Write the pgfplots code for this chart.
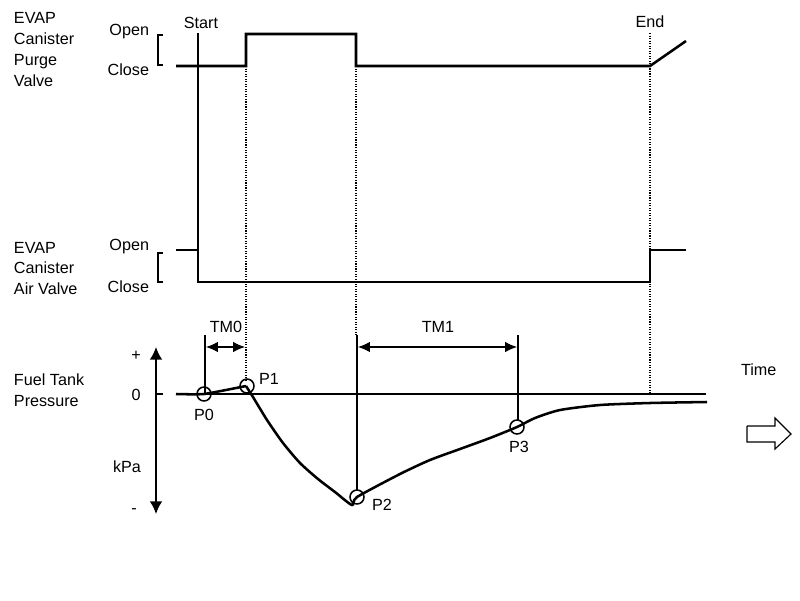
\documentclass[border=0pt]{standalone}
\usepackage{pgfplots}
\pgfplotsset{compat=1.18}
\usetikzlibrary{arrows.meta}
\usepackage{fontspec}
\setmainfont{Liberation Sans}
\tikzset{lab/.style={font=\fontsize{11.5}{13}\selectfont, inner sep=0pt, outer sep=0pt}}
\begin{document}
\begin{tikzpicture}
\begin{axis}[
  width=20cm, height=15cm, scale only axis,
  xmin=0, xmax=800, ymin=0, ymax=600, y dir=reverse,
  hide axis, clip=false,
]
% invisible frame
\addplot[draw=none] coordinates {(0,0) (800,600)};
% ---- Purge valve
\addplot[line width=1.8pt, line join=miter] coordinates {(176,66) (246,66) (246,34) (356,34) (356,66) (650,66) (686,41)};
\addplot[line width=0.8pt] coordinates {(163,35) (158,35) (158,65) (163,65)};
% ---- Air valve
\addplot[line width=1.8pt, line join=miter] coordinates {(176,250) (198,250) (198,282) (650,282) (650,250) (686,250)};
\addplot[line width=0.8pt] coordinates {(163,253) (158,253) (158,282) (163,282)};
% ---- vertical guide lines
\addplot[line width=0.8pt] coordinates {(198,33) (198,282)};
\addplot[line width=0.8pt] coordinates {(205,335) (205,393)};
\addplot[line width=0.8pt, densely dotted] coordinates {(246,66) (246,380)};
\addplot[line width=0.8pt, densely dotted] coordinates {(356,66) (356,335)};
\addplot[line width=0.8pt] coordinates {(357,335) (357,490)};
\addplot[line width=0.8pt] coordinates {(518,335) (518,421)};
\addplot[line width=0.8pt, densely dotted] coordinates {(650,33) (650,393)};
% ---- pressure axis
\addplot[line width=1.1pt, {Latex[length=9pt,width=9pt]}-{Latex[length=9pt,width=9pt]}] coordinates {(156,347) (156,514)};
\addplot[line width=0.8pt] coordinates {(156,394) (163,394)};
\addplot[line width=0.8pt] coordinates {(176,394) (706,394)};
% ---- pressure curve
\addplot[line width=1.8pt, smooth, tension=0.3] coordinates {(176,394) (204,394) (246,386)};
\addplot[line width=1.8pt, smooth, tension=0.4] coordinates {(246,386) (253,397) (267,420) (283,443) (300,463) (318,479) (335,492) (352,505) (357,497) (400,474) (430,460) (460,449) (490,438) (517,427) (535,418) (560,410) (600,405) (650,403) (707,402)};
% ---- circles
\addplot[only marks, mark=o, mark size=7pt*0.711, mark options={line width=1.1pt}] coordinates {(204,394) (247,386) (357,497) (517,427)};
% ---- TM arrows
\addplot[line width=0.8pt, {Latex[length=8.5pt,width=7.5pt]}-{Latex[length=8.5pt,width=7.5pt]}] coordinates {(206,347) (245,347)};
\addplot[line width=0.8pt, {Latex[length=8.5pt,width=7.5pt]}-{Latex[length=8.5pt,width=7.5pt]}] coordinates {(358,347) (517,347)};
% ---- block arrow
\addplot[line width=0.8pt, fill=white] coordinates {(747,426) (775,426) (775,418) (791,434) (775,449) (775,442) (747,442) (747,426)};
% ---- labels
\node[lab, anchor=base west] at (axis cs:14,23) {EVAP};
\node[lab, anchor=base west] at (axis cs:14,44.5) {Canister};
\node[lab, anchor=base west] at (axis cs:14,65.5) {Purge};
\node[lab, anchor=base west] at (axis cs:14,86.5) {Valve};
\node[lab, anchor=base east] at (axis cs:149,35) {Open};
\node[lab, anchor=base east] at (axis cs:149,75) {Close};
\node[lab, anchor=base] at (axis cs:201,28) {Start};
\node[lab, anchor=base] at (axis cs:650,27) {End};
\node[lab, anchor=base west] at (axis cs:14,253) {EVAP};
\node[lab, anchor=base west] at (axis cs:14,273.5) {Canister};
\node[lab, anchor=base west] at (axis cs:14,294) {Air Valve};
\node[lab, anchor=base east] at (axis cs:149,250) {Open};
\node[lab, anchor=base east] at (axis cs:149,292) {Close};
\node[lab, anchor=base west] at (axis cs:14,385) {Fuel Tank};
\node[lab, anchor=base west] at (axis cs:14,406) {Pressure};
\node[lab, anchor=base] at (axis cs:136,360) {+};
\node[lab, anchor=base] at (axis cs:136,400) {0};
\node[lab, anchor=base] at (axis cs:127,472) {kPa};
\node[lab, anchor=base] at (axis cs:134,513) {-};
\node[lab, anchor=base] at (axis cs:226,332) {TM0};
\node[lab, anchor=base] at (axis cs:438,332) {TM1};
\node[lab, anchor=base] at (axis cs:204,420) {P0};
\node[lab, anchor=base west] at (axis cs:259,384) {P1};
\node[lab, anchor=base west] at (axis cs:372,510) {P2};
\node[lab, anchor=base west] at (axis cs:509,452) {P3};
\node[lab, anchor=base west] at (axis cs:741,375) {Time};
\end{axis}
\end{tikzpicture}
\end{document}
